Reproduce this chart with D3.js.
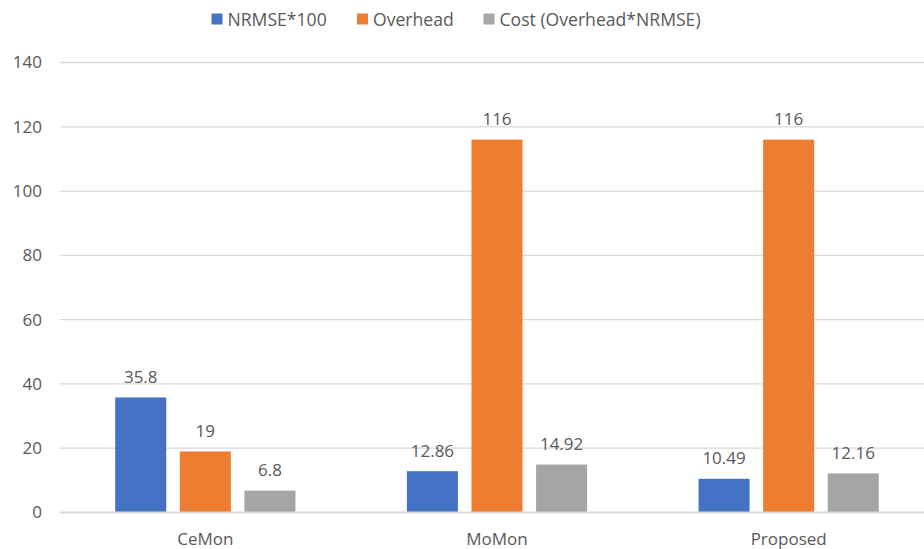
<!DOCTYPE html>
<html>
<head>
<meta charset="utf-8">
<script src="https://cdn.jsdelivr.net/npm/d3@7"></script>
<style>
  html, body { margin: 0; padding: 0; background: #fff; }
  svg { display: block; }
  text { font-family: "Open Sans", "Liberation Sans", sans-serif; fill: #595959; }
</style>
</head>
<body>
<svg id="chart" width="924" height="549"></svg>
<script>
// Methods compared
const categories = ["CeMon", "MoMon", "Proposed"];
// Series names (legend order)
const seriesNames = ["NRMSE*100", "Overhead", "Cost (Overhead*NRMSE)"];
// Values per series, one entry per method
const nrmse = [35.8, 12.86, 10.49];
const overhead = [19, 116, 116];
const cost = [6.8, 14.92, 12.16];
// Value-axis tick labels
const yTicks = [0, 20, 40, 60, 80, 100, 120, 140];

const colors = ["#4472C4", "#ED7D31", "#A5A5A5"];
const seriesValues = [nrmse, overhead, cost];

const W = 924, H = 549;
const plot = { left: 59.5, right: 934.5, top: 62.5, bottom: 512.5 };
const fontSize = "17px";

const svg = d3.select("#chart");

const y = d3.scaleLinear().domain([0, 140]).range([plot.bottom, plot.top]);
const x0 = d3.scaleBand().domain(categories).range([plot.left, plot.right]).padding(0);
const groupW = 193.8;
const x1 = d3.scaleBand().domain(seriesNames).range([-groupW / 2, groupW / 2])
  .paddingInner(0.21).paddingOuter(0.105);

// Horizontal gridlines
svg.append("g")
  .selectAll("line")
  .data(yTicks.filter(t => t !== 0))
  .join("line")
  .attr("x1", plot.left).attr("x2", W)
  .attr("y1", d => y(d)).attr("y2", d => y(d))
  .attr("stroke", "#D9D9D9").attr("stroke-width", 1.3);

// Value axis labels
const yAxis = d3.axisLeft(y).tickValues(yTicks).tickSize(0).tickPadding(0);
const gy = svg.append("g").attr("transform", `translate(${plot.left - 17.5},0)`).call(yAxis);
gy.select(".domain").remove();
gy.selectAll("text")
  .style("font-size", fontSize)
  .attr("fill", "#595959")
  .attr("font-family", null);

// Bars
const groups = svg.append("g")
  .selectAll("g")
  .data(categories)
  .join("g")
  .attr("transform", d => `translate(${x0(d) + x0.bandwidth() / 2},0)`);

const cells = groups.selectAll("g.cell")
  .data((c, i) => seriesNames.map((s, j) => ({ s, j, v: seriesValues[j][i] })))
  .join("g").attr("class", "cell");

cells.append("rect")
  .attr("x", d => x1(d.s))
  .attr("width", x1.bandwidth())
  .attr("y", d => y(d.v))
  .attr("height", d => y(0) - y(d.v))
  .attr("fill", d => colors[d.j]);

// Data labels
cells.append("text")
  .attr("x", d => x1(d.s) + x1.bandwidth() / 2)
  .attr("y", d => y(d.v) - 14.5)
  .attr("text-anchor", "middle")
  .style("font-size", fontSize)
  .text(d => d.v);

// Baseline (category axis)
svg.append("line")
  .attr("x1", plot.left).attr("x2", W)
  .attr("y1", y(0)).attr("y2", y(0))
  .attr("stroke", "#D9D9D9").attr("stroke-width", 2);

// Category labels
const xAxis = d3.axisBottom(x0).tickSize(0).tickPadding(0);
const gx = svg.append("g").attr("transform", `translate(0,${y(0)})`).call(xAxis);
gx.select(".domain").remove();
gx.selectAll("text")
  .attr("dy", null)
  .attr("y", 32.5)
  .style("font-size", fontSize)
  .attr("fill", "#595959")
  .attr("font-family", null);

// Legend
const legendX = [211.5, 357, 483.5];
const legend = svg.append("g");
const items = legend.selectAll("g")
  .data(seriesNames)
  .join("g")
  .attr("transform", (d, i) => `translate(${legendX[i]},0)`);
items.append("rect")
  .attr("x", 0).attr("y", 13.5)
  .attr("width", 11).attr("height", 11)
  .attr("fill", (d, i) => colors[i]);
items.append("text")
  .attr("x", 16).attr("y", 25.5)
  .style("font-size", "17.6px")
  .text(d => d);
</script>
</body>
</html>
